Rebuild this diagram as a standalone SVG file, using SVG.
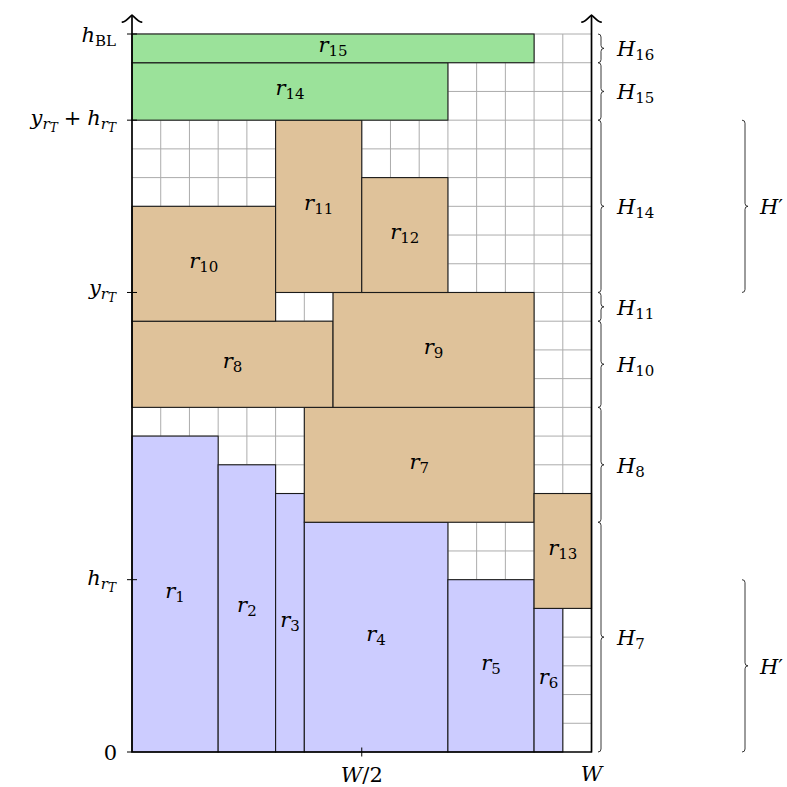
<svg xmlns="http://www.w3.org/2000/svg" width="787" height="787" viewBox="0 0 787 787">
<style>
.grid{fill:none;stroke:#acacac;stroke-width:1}
.blue{fill:#ccccff;stroke:#1a1a1a;stroke-width:1.1}
.tan{fill:#dfc29a;stroke:#1a1a1a;stroke-width:1.1}
.green{fill:#9be29a;stroke:#1a1a1a;stroke-width:1.1}
.axis{fill:none;stroke:#000;stroke-width:1.7;stroke-linecap:round;stroke-linejoin:round}
.tick{fill:none;stroke:#000;stroke-width:1}
.brace{fill:none;stroke:#222;stroke-width:0.9}
.t{font-family:'DejaVu Serif',serif;font-size:21px;fill:#000}
.i{font-style:italic}
.s{font-size:15px}
.ss{font-size:12px}
</style>
<rect width="787" height="787" fill="#fff"/>
<g id="grid" class="grid">
<path d="M160.72 34V752M189.44 34V752M218.16 34V752M246.88 34V752M275.6 34V752M304.32 34V752M333.04 34V752M361.76 34V752M390.48 34V752M419.2 34V752M447.92 34V752M476.64 34V752M505.36 34V752M534.08 34V752M562.8 34V752"/>
<path d="M132 723.28H591.52M132 694.56H591.52M132 665.84H591.52M132 637.12H591.52M132 608.4H591.52M132 579.68H591.52M132 550.96H591.52M132 522.24H591.52M132 493.52H591.52M132 464.8H591.52M132 436.08H591.52M132 407.36H591.52M132 378.64H591.52M132 349.92H591.52M132 321.2H591.52M132 292.48H591.52M132 263.76H591.52M132 235.04H591.52M132 206.32H591.52M132 177.6H591.52M132 148.88H591.52M132 120.16H591.52M132 91.44H591.52M132 62.72H591.52M132 34H591.52"/>
</g>
<g id="r1"><rect class="blue" x="132" y="436.08" width="86.16" height="315.92"/><text class="t" x="175.08" y="598" text-anchor="middle"><tspan class="i">r</tspan><tspan class="s" dy="4">1</tspan></text></g>
<g id="r2"><rect class="blue" x="218.16" y="464.8" width="57.44" height="287.2"/><text class="t" x="246.88" y="612.4" text-anchor="middle"><tspan class="i">r</tspan><tspan class="s" dy="4">2</tspan></text></g>
<g id="r3"><rect class="blue" x="275.6" y="493.52" width="28.72" height="258.48"/><text class="t" x="289.96" y="626.8" text-anchor="middle"><tspan class="i">r</tspan><tspan class="s" dy="4">3</tspan></text></g>
<g id="r4"><rect class="blue" x="304.32" y="522.24" width="143.6" height="229.76"/><text class="t" x="376.12" y="641.1" text-anchor="middle"><tspan class="i">r</tspan><tspan class="s" dy="4">4</tspan></text></g>
<g id="r5"><rect class="blue" x="447.92" y="579.68" width="86.16" height="172.32"/><text class="t" x="491" y="669.8" text-anchor="middle"><tspan class="i">r</tspan><tspan class="s" dy="4">5</tspan></text></g>
<g id="r6"><rect class="blue" x="534.08" y="608.4" width="28.72" height="143.6"/><text class="t" x="548.44" y="684.2" text-anchor="middle"><tspan class="i">r</tspan><tspan class="s" dy="4">6</tspan></text></g>
<g id="r7"><rect class="tan" x="304.32" y="407.36" width="229.76" height="114.88"/><text class="t" x="419.2" y="468.8" text-anchor="middle"><tspan class="i">r</tspan><tspan class="s" dy="4">7</tspan></text></g>
<g id="r8"><rect class="tan" x="132" y="321.2" width="201.04" height="86.16"/><text class="t" x="232.52" y="368.3" text-anchor="middle"><tspan class="i">r</tspan><tspan class="s" dy="4">8</tspan></text></g>
<g id="r9"><rect class="tan" x="333.04" y="292.48" width="201.04" height="114.88"/><text class="t" x="433.56" y="353.9" text-anchor="middle"><tspan class="i">r</tspan><tspan class="s" dy="4">9</tspan></text></g>
<g id="r10"><rect class="tan" x="132" y="206.32" width="143.6" height="114.88"/><text class="t" x="203.8" y="267.8" text-anchor="middle"><tspan class="i">r</tspan><tspan class="s" dy="4">10</tspan></text></g>
<g id="r11"><rect class="tan" x="275.6" y="120.16" width="86.16" height="172.32"/><text class="t" x="318.68" y="210.3" text-anchor="middle"><tspan class="i">r</tspan><tspan class="s" dy="4">11</tspan></text></g>
<g id="r12"><rect class="tan" x="361.76" y="177.6" width="86.16" height="114.88"/><text class="t" x="404.84" y="239" text-anchor="middle"><tspan class="i">r</tspan><tspan class="s" dy="4">12</tspan></text></g>
<g id="r13"><rect class="tan" x="534.08" y="493.52" width="57.44" height="114.88"/><text class="t" x="562.8" y="555" text-anchor="middle"><tspan class="i">r</tspan><tspan class="s" dy="4">13</tspan></text></g>
<g id="r14"><rect class="green" x="132" y="62.72" width="315.92" height="57.44"/><text class="t" x="289.96" y="95.4" text-anchor="middle"><tspan class="i">r</tspan><tspan class="s" dy="4">14</tspan></text></g>
<g id="r15"><rect class="green" x="132" y="34" width="402.08" height="28.72"/><text class="t" x="333.04" y="52.4" text-anchor="middle"><tspan class="i">r</tspan><tspan class="s" dy="4">15</tspan></text></g>
<g id="axes">
<path class="axis" d="M132 752V15.5M591.52 752V15.5M132 752H591.52"/>
<path class="axis" d="M122.4 22.2C126 21.6 131.4 15 132 15C132.6 15 138 21.6 141.6 22.2"/>
<path class="axis" d="M581.92 22.2C585.52 21.6 590.92 15 591.52 15C592.12 15 597.52 21.6 601.12 22.2"/>
<path class="tick" d="M127 752H132M127 579.68H137M127 292.48H137M127 120.16H137M127 34H137M361.76 747.5V756.5"/>
</g>
<g id="axis-labels">
<text class="t" x="116" y="41.5" text-anchor="end"><tspan class="i">h</tspan><tspan class="s" dy="4">BL</tspan></text>
<text class="t" x="116" y="125" text-anchor="end"><tspan class="i">y</tspan><tspan class="s i" dy="4">r</tspan><tspan class="ss i" dy="3">T</tspan><tspan dx="6" dy="-7">+</tspan><tspan class="i" dx="6">h</tspan><tspan class="s i" dy="4">r</tspan><tspan class="ss i" dy="3">T</tspan></text>
<text class="t" x="116" y="295" text-anchor="end"><tspan class="i">y</tspan><tspan class="s i" dy="4">r</tspan><tspan class="ss i" dy="3">T</tspan></text>
<text class="t" x="116" y="585" text-anchor="end"><tspan class="i">h</tspan><tspan class="s i" dy="4">r</tspan><tspan class="ss i" dy="3">T</tspan></text>
<text class="t" x="117" y="760" text-anchor="end">0</text>
<text class="t" x="361.76" y="782" text-anchor="middle"><tspan class="i">W</tspan>/2</text>
<text class="t" x="591.52" y="781" text-anchor="middle"><tspan class="i">W</tspan></text>
</g>
<g id="braces" class="brace">
<path d="M598 34Q601 34 601 37L601 45.36Q601 48.36 604 48.36Q601 48.36 601 51.36L601 59.72Q601 62.72 598 62.72"/>
<path d="M598 62.72Q601 62.72 601 65.72L601 88.44Q601 91.44 604 91.44Q601 91.44 601 94.44L601 117.16Q601 120.16 598 120.16"/>
<path d="M598 120.16Q601 120.16 601 123.16L601 203.32Q601 206.32 604 206.32Q601 206.32 601 209.32L601 289.48Q601 292.48 598 292.48"/>
<path d="M598 292.48Q601 292.48 601 295.48L601 303.84Q601 306.84 604 306.84Q601 306.84 601 309.84L601 318.2Q601 321.2 598 321.2"/>
<path d="M598 321.2Q601 321.2 601 324.2L601 361.28Q601 364.28 604 364.28Q601 364.28 601 367.28L601 404.36Q601 407.36 598 407.36"/>
<path d="M598 407.36Q601 407.36 601 410.36L601 461.8Q601 464.8 604 464.8Q601 464.8 601 467.8L601 519.24Q601 522.24 598 522.24"/>
<path d="M598 522.24Q601 522.24 601 525.24L601 634.12Q601 637.12 604 637.12Q601 637.12 601 640.12L601 749Q601 752 598 752"/>
<path d="M742 120.16Q745 120.16 745 123.16L745 203.32Q745 206.32 748 206.32Q745 206.32 745 209.32L745 289.48Q745 292.48 742 292.48"/>
<path d="M742 579.68Q745 579.68 745 582.68L745 662.84Q745 665.84 748 665.84Q745 665.84 745 668.84L745 749Q745 752 742 752"/>
</g>
<g id="brace-labels">
<text class="t" x="617" y="56"><tspan class="i">H</tspan><tspan class="s" dy="4">16</tspan></text>
<text class="t" x="617" y="99"><tspan class="i">H</tspan><tspan class="s" dy="4">15</tspan></text>
<text class="t" x="617" y="214"><tspan class="i">H</tspan><tspan class="s" dy="4">14</tspan></text>
<text class="t" x="617" y="314.5"><tspan class="i">H</tspan><tspan class="s" dy="4">11</tspan></text>
<text class="t" x="617" y="372"><tspan class="i">H</tspan><tspan class="s" dy="4">10</tspan></text>
<text class="t" x="617" y="472.5"><tspan class="i">H</tspan><tspan class="s" dy="4">8</tspan></text>
<text class="t" x="617" y="645"><tspan class="i">H</tspan><tspan class="s" dy="4">7</tspan></text>
<text class="t" x="760" y="214"><tspan class="i">H</tspan>′</text>
<text class="t" x="760" y="673.5"><tspan class="i">H</tspan>′</text>
</g>
</svg>
